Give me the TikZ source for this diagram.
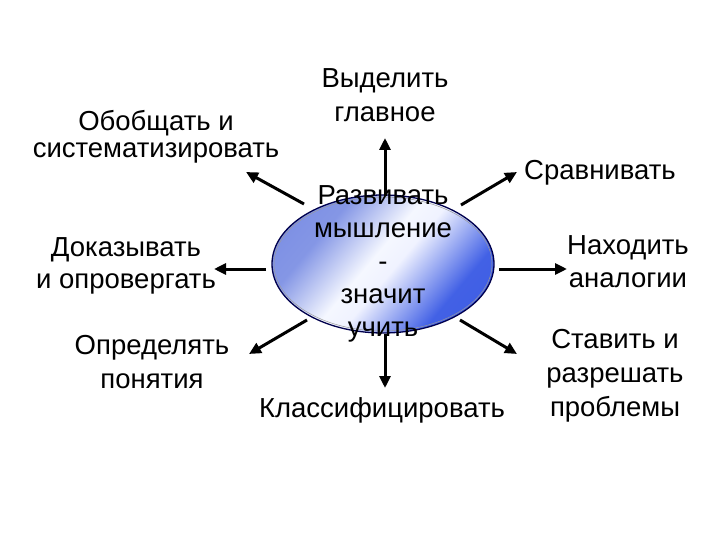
\documentclass[tikz,border=0pt]{standalone}
\usepackage{fontspec}
\setmainfont{Liberation Sans}
\usetikzlibrary{arrows.meta,shapes.geometric}
\pgfdeclarehorizontalshading{ellshade}{100bp}{
  rgb(0bp)=(0.42,0.50,0.88);
  rgb(32bp)=(0.52,0.59,0.90);
  rgb(47bp)=(0.96,0.97,1);
  rgb(53bp)=(0.94,0.95,1);
  rgb(70bp)=(0.26,0.38,0.90);
  rgb(100bp)=(0.22,0.34,0.88)}
\begin{document}
\begin{tikzpicture}[x=1pt,y=-1pt,
  lbl/.style={align=center,font=\fontsize{27.5}{34}\selectfont,inner sep=0pt},
  ray/.style={line width=3pt,-{Triangle[length=12pt,width=11pt]}},
  ]
\useasboundingbox (0,0) rectangle (720,540);
\node[ellipse,minimum width=222pt,minimum height=138pt,inner sep=0pt,
  draw=black!70!blue,line width=1.3pt,
  shading=ellshade,shading angle=-40] (e) at (383,264) {};
\node[ellipse,minimum width=218pt,minimum height=134pt,inner sep=0pt,
  draw=black!40,line width=0.5pt] (ei) at (383,264) {};
\node[lbl,font=\fontsize{27.5}{33}\selectfont] (c) at (383,264) {Развивать\\мышление\\-\\значит\\учить};
% connector endpoints
\coordinate (u0) at (385,196); \coordinate (u1) at (385,138);
\coordinate (d0) at (385,334); \coordinate (d1) at (385,388);
\coordinate (l0) at (266,269); \coordinate (l1) at (214,269);
\coordinate (r0) at (499,269); \coordinate (r1) at (567,269);
\coordinate (ul0) at (304,204); \coordinate (ul1) at (246,172);
\coordinate (ur0) at (461,205); \coordinate (ur1) at (517,172);
\coordinate (dl0) at (307,320); \coordinate (dl1) at (249,354);
\coordinate (dr0) at (460,320); \coordinate (dr1) at (517,354);
\foreach \a in {u,d,l,r,ul,ur,dl,dr} \draw[ray] (\a0) -- (\a1);
% labels
\node[lbl] (t1) at (385,95) {Выделить\\главное};
\node[lbl] (t2) at (156,137) {Обобщать и\\[-7pt]систематизировать};
\node[lbl] (t3) at (600,173) {Сравнивать};
\node[lbl] (t4) at (628,262) {Находить\\[-1pt]аналогии};
\node[lbl] (t5) at (126,266) {Доказывать\\[-2pt]и опровергать};
\node[lbl] (t6) at (152,362) {Определять\\понятия};
\node[lbl] (t7) at (615,376) {Ставить и\\разрешать\\проблемы};
\node[lbl] (t8) at (382,410) {Классифицировать};
\end{tikzpicture}
\end{document}
